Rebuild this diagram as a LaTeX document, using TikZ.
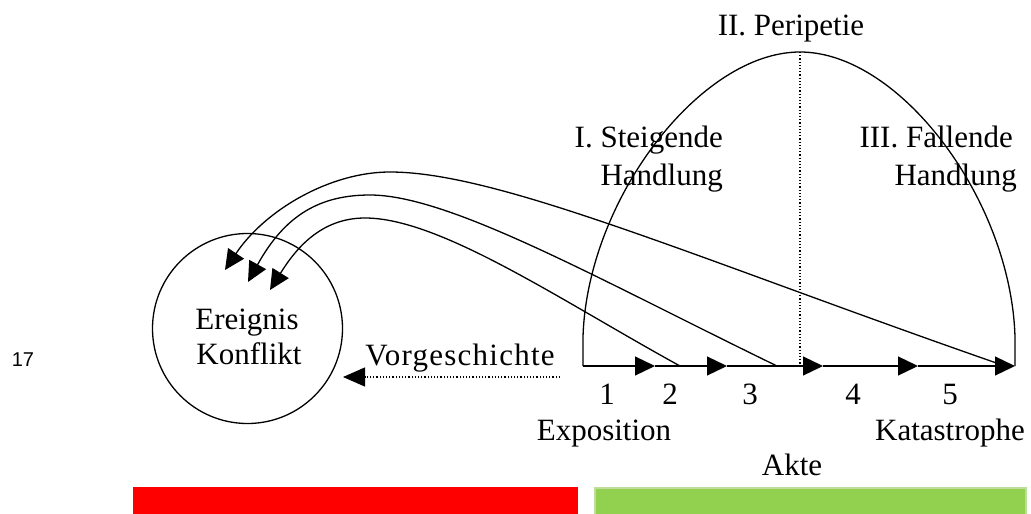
\documentclass[tikz,border=0pt]{standalone}
\usepackage{fontspec}
\setmainfont{Liberation Serif}
\newfontfamily\labelsans{Liberation Sans}
\usetikzlibrary{arrows.meta}
\begin{document}
\begin{tikzpicture}[x=1pt,y=-1pt,
  line/.style={line width=1.3pt},
  tri/.style={-{Triangle[length=20pt,width=19pt]}},
  lbl/.style={inner sep=0pt,font=\fontsize{31}{37}\selectfont},
  dotline/.style={line width=1.2pt,dotted}]
\useasboundingbox (0,0) rectangle (1031,514);
% axis coordinates
\coordinate (o) at (583,366);
\coordinate (a1) at (655,366);
\coordinate (a2) at (727,366);
\coordinate (a3) at (823,366);
\coordinate (a4) at (918,366);
\coordinate (a5) at (1015,366);
\coordinate (lb) at (583,337);
\coordinate (rb) at (1015,337);
\coordinate (top) at (800,52);
\coordinate (mid) at (800,366);
% arch
\draw[line] (o) -- (lb) .. controls (587,200) and (700,52) .. (top)
  .. controls (900,52) and (1011,200) .. (rb) -- (a5);
% dotted vertical
\draw[dotline] (top) -- (mid);
% axis with arrows
\draw[line,tri] (o) -- (a1);
\draw[line,tri] (a1) -- (a2);
\draw[line,tri] (a2) -- (a3);
\draw[line,tri] (a3) -- (a4);
\draw[line,tri] (a4) -- (a5);
% circle
\node[circle,draw,line width=1.3pt,minimum size=190pt,inner sep=0pt] (ev) at (247.5,328.5) {};
\node[lbl,anchor=base] (e1) at (247,329) {Ereignis};
\node[lbl,anchor=base] (e2) at (249,364) {Konflikt};
% curved arrows
\coordinate (c1) at (680,366);
\coordinate (c2) at (777,366);
\coordinate (c3) at (1005,366);
\coordinate (m1) at (365,218);
\coordinate (m2) at (370,195);
\coordinate (m3) at (390,172);
\coordinate (t1) at (270,290);
\coordinate (t2) at (248,282);
\coordinate (t3) at (225,270);
\draw[line,tri] (c1) .. controls (560,300) and (440,218) .. (m1)
  .. controls (320,218) and (295,250) .. (t1);
\draw[line,tri] (c2) .. controls (600,280) and (450,195) .. (m2)
  .. controls (320,195) and (285,215) .. (t2);
\draw[line,tri] (c3) .. controls (700,260) and (500,172) .. (m3)
  .. controls (330,172) and (265,210) .. (t3);
% Vorgeschichte
\coordinate (vs) at (560,377);
\coordinate (ve) at (343,377);
\draw[dotline,-{Triangle[length=22pt,width=19pt]}] (vs) -- (ve);
\node[lbl,anchor=base,font=\fontsize{31}{37}\selectfont\addfontfeature{LetterSpace=4}] (vg) at (460,365) {Vorgeschichte};
% labels
\node[lbl,anchor=base] (per) at (791,35) {II. Peripetie};
\node[lbl,anchor=base east] (st1) at (723,147) {I. Steigende};
\node[lbl,anchor=base east] (st2) at (723,185) {Handlung};
\node[lbl,anchor=base east] (fa1) at (1013,147) {III. Fallende};
\node[lbl,anchor=base east] (fa2) at (1017,185) {Handlung};
\node[lbl,anchor=base] (n1) at (607,404) {1};
\node[lbl,anchor=base] (n2) at (670,404) {2};
\node[lbl,anchor=base] (n3) at (750,404) {3};
\node[lbl,anchor=base] (n4) at (853,404) {4};
\node[lbl,anchor=base] (n5) at (950,404) {5};
\node[lbl,anchor=base] (ex) at (604,440) {Exposition};
\node[lbl,anchor=base] (ka) at (950,440) {Katastrophe};
\node[lbl,anchor=base] (ak) at (792,475) {Akte};
\node[inner sep=0pt,anchor=base,font=\labelsans\fontsize{20}{24}\selectfont] (pg) at (23,366) {17};
% bars
\fill[red] (133,487) rectangle (578,514);
\definecolor{barg}{HTML}{92D050}
\definecolor{bargb}{HTML}{BEDD9A}
\filldraw[fill=barg,draw=bargb,line width=2pt] (595,488) rectangle (1026,515);
\end{tikzpicture}
\end{document}
